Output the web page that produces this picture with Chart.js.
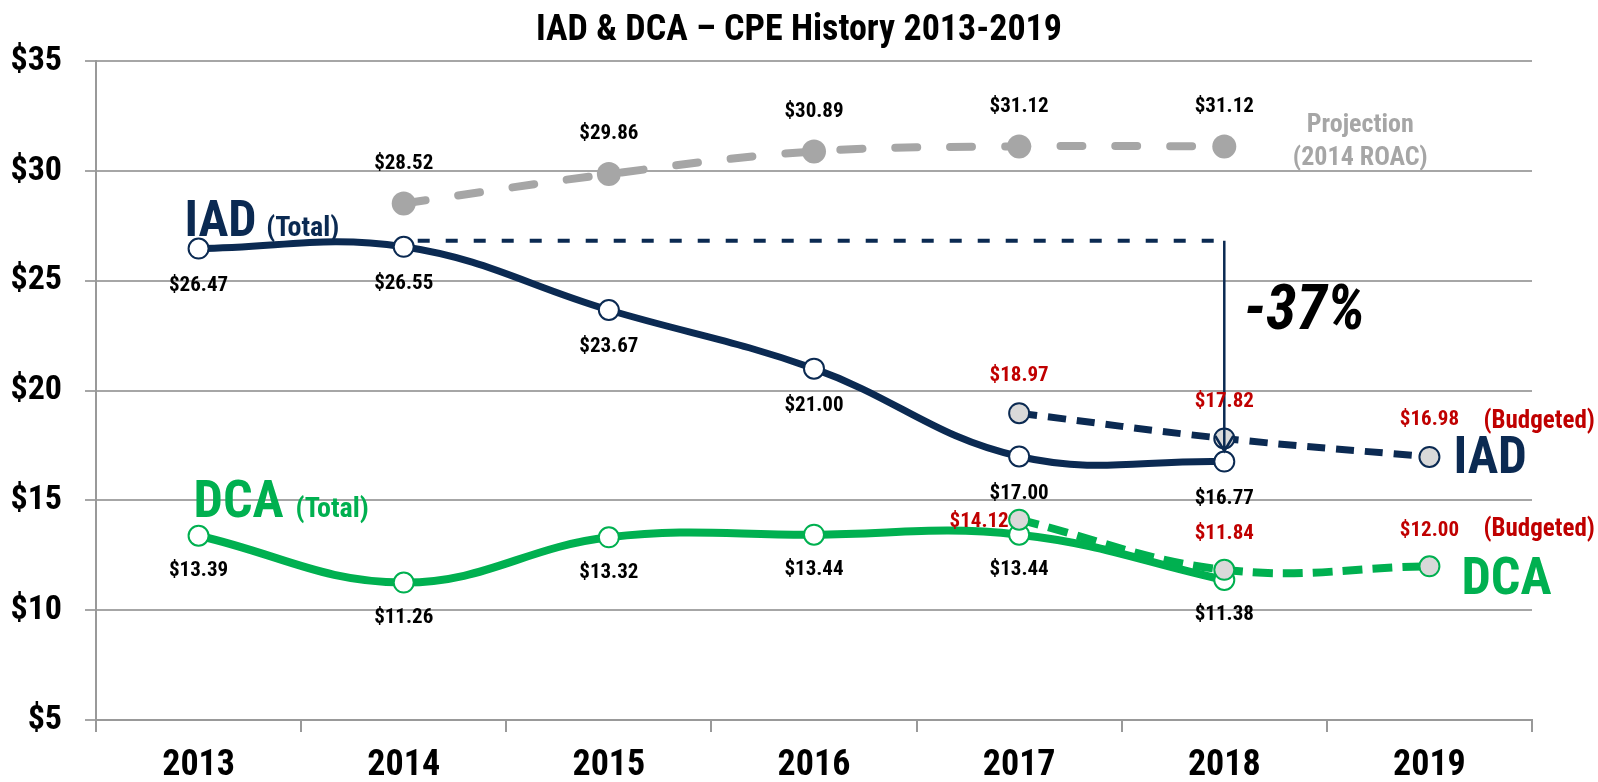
<!DOCTYPE html>
<html>
<head>
<meta charset="utf-8">
<title>IAD & DCA CPE History</title>
<script src="https://cdn.jsdelivr.net/npm/chart.js@4.4.1/dist/chart.umd.min.js"></script>
<style>
  html, body { margin: 0; padding: 0; background: #fff; }
  #wrap { width: 1598px; height: 782px; }
</style>
</head>
<body>
<div id="wrap"><canvas id="cpe"></canvas></div>
<script>
const years = ['2013', '2014', '2015', '2016', '2017', '2018', '2019'];
const iadTotal = [26.47, 26.55, 23.67, 21.00, 17.00, 16.77, null];
const iadBudget = [null, null, null, null, 18.97, 17.82, 16.98];
const projection = [null, 28.52, 29.86, 30.89, 31.12, 31.12, null];
const dcaTotal = [13.39, 11.26, 13.32, 13.44, 13.44, 11.38, null];
const dcaBudget = [null, null, null, null, 14.12, 11.84, 12.00];
const yTickValues = [5, 10, 15, 20, 25, 30, 35];

const NAVY = '#0b2a52';
const GREEN = '#00b050';
const GRAY = '#a6a6a6';
const RED = '#c00000';
const FONT = '"Roboto Condensed", "Open Sans Condensed", "Liberation Sans Narrow", sans-serif';

const money = v => '$' + v.toFixed(2);

// labels, callouts and the -37% arrow
const annotate = {
  id: 'annotate',
  afterDatasetsDraw(chart) {
    const { ctx, scales } = chart;
    const x = scales.x, y = scales.y;
    const pts = i => chart.getDatasetMeta(i).data;
    const txt = (s, px, py, size, color, align, style) => {
      ctx.font = (style || 'bold') + ' ' + size + 'px ' + FONT;
      ctx.fillStyle = color;
      ctx.textAlign = align || 'center';
      ctx.textBaseline = 'middle';
      ctx.fillText(s, px, py);
    };
    ctx.save();

    // reference level from 2014 and the drop arrow at 2018
    const lvl = y.getPixelForValue(26.82);
    const x14 = x.getPixelForValue(1), x18 = x.getPixelForValue(5);
    ctx.strokeStyle = NAVY;
    ctx.lineWidth = 4;
    ctx.setLineDash([12, 16]);
    ctx.beginPath();
    ctx.moveTo(x14 + 14, lvl);
    ctx.lineTo(x18, lvl);
    ctx.stroke();
    ctx.setLineDash([]);
    ctx.lineWidth = 2.5;
    const tip = y.getPixelForValue(17.25);
    ctx.beginPath();
    ctx.moveTo(x18, lvl);
    ctx.lineTo(x18, tip);
    ctx.moveTo(x18 - 9, tip - 15);
    ctx.lineTo(x18, tip);
    ctx.lineTo(x18 + 9, tip - 15);
    ctx.stroke();
    txt('-37%', x18 + 20, y.getPixelForValue(23.5), 62, '#000', 'left', 'italic bold');

    // data labels
    pts(0).forEach((p, i) => { if (iadTotal[i] != null) txt(money(iadTotal[i]), p.x, p.y + 37, 21, '#000'); });
    pts(2).forEach((p, i) => { if (dcaTotal[i] != null) txt(money(dcaTotal[i]), p.x, p.y + 35, 21, '#000'); });
    pts(4).forEach((p, i) => { if (projection[i] != null) txt(money(projection[i]), p.x, p.y - 40, 21, '#000'); });
    pts(1).forEach((p, i) => { if (iadBudget[i] != null) txt(money(iadBudget[i]), p.x, p.y - 37, 21, RED); });
    pts(3).forEach((p, i) => {
      if (dcaBudget[i] == null) return;
      if (i === 4) txt(money(dcaBudget[i]), p.x - 40, p.y + 2, 21, RED);
      else txt(money(dcaBudget[i]), p.x, p.y - 36, 21, RED);
    });

    // series callouts
    const iad0 = pts(0)[0], dca0 = pts(2)[0];
    ctx.textBaseline = 'alphabetic';
    ctx.textAlign = 'left';
    ctx.fillStyle = NAVY;
    ctx.font = 'bold 50px ' + FONT;
    ctx.fillText('IAD', iad0.x - 14, iad0.y - 13);
    let w = ctx.measureText('IAD ').width;
    ctx.font = 'bold 28px ' + FONT;
    ctx.fillText('(Total)', iad0.x - 16 + w, iad0.y - 13);
    ctx.fillStyle = GREEN;
    ctx.font = 'bold 52px ' + FONT;
    ctx.fillText('DCA', dca0.x - 5, dca0.y - 19);
    w = ctx.measureText('DCA ').width;
    ctx.font = 'bold 28px ' + FONT;
    ctx.fillText('(Total)', dca0.x - 5 + w, dca0.y - 19);

    const iadEnd = pts(1)[6], dcaEnd = pts(3)[6];
    txt('IAD', iadEnd.x + 24, iadEnd.y + 3, 51, NAVY, 'left');
    txt('DCA', dcaEnd.x + 32, dcaEnd.y + 15, 52, GREEN, 'left');
    txt('(Budgeted)', iadEnd.x + 54, iadEnd.y - 35, 25, RED, 'left');
    txt('(Budgeted)', dcaEnd.x + 54, dcaEnd.y - 37, 25, RED, 'left');

    const pr = pts(4)[5];
    txt('Projection', pr.x + 136, pr.y - 21, 26, GRAY);
    txt('(2014 ROAC)', pr.x + 136, pr.y + 12, 26, GRAY);
    ctx.restore();
  }
};

new Chart(document.getElementById('cpe'), {
  type: 'line',
  data: {
    labels: years,
    datasets: [
      {
        label: 'IAD (Total)',
        data: iadTotal,
        borderColor: NAVY,
        borderWidth: 7,
        tension: 0.4,
        pointRadius: 10,
        pointBorderWidth: 2,
        pointBackgroundColor: '#fff',
        pointBorderColor: NAVY,
        order: 5,
      },
      {
        label: 'IAD (Budgeted)',
        data: iadBudget,
        borderColor: NAVY,
        borderWidth: 7,
        borderDash: [18, 11],
        tension: 0.4,
        pointRadius: 10,
        pointBorderWidth: 2,
        pointBackgroundColor: '#d9d9d9',
        pointBorderColor: NAVY,
        order: 4,
      },
      {
        label: 'DCA (Total)',
        data: dcaTotal,
        borderColor: GREEN,
        borderWidth: 8,
        tension: 0.4,
        pointRadius: 10,
        pointBorderWidth: 2,
        pointBackgroundColor: '#fff',
        pointBorderColor: GREEN,
        order: 3,
      },
      {
        label: 'DCA (Budgeted)',
        data: dcaBudget,
        borderColor: GREEN,
        borderWidth: 8,
        borderDash: [20, 10],
        tension: 0.4,
        pointRadius: 10,
        pointBorderWidth: 2,
        pointBackgroundColor: '#d9d9d9',
        pointBorderColor: GREEN,
        order: 2,
      },
      {
        label: 'Projection (2014 ROAC)',
        data: projection,
        borderColor: GRAY,
        borderWidth: 8,
        borderDash: [22, 33],
        borderCapStyle: 'round',
        tension: 0.4,
        pointRadius: 12,
        pointBorderWidth: 0,
        pointBackgroundColor: GRAY,
        order: 1,
      },
    ],
  },
  options: {
    responsive: true,
    maintainAspectRatio: false,
    animation: false,
    layout: { padding: 0 },
    plugins: {
      legend: { display: false },
      tooltip: { enabled: false },
      title: {
        display: true,
        text: 'IAD & DCA \u2013 CPE History 2013-2019',
        color: '#000',
        font: { family: FONT, size: 36, weight: 'bold', lineHeight: 1.2 },
        padding: { top: 9, bottom: 9 },
      },
    },
    scales: {
      x: {
        offset: true,
        afterFit: (scale) => { scale.height = 62; },
        grid: {
          offset: true,
          drawOnChartArea: false,
          drawTicks: true,
          tickLength: 12,
          color: '#999',
          lineWidth: 2,
        },
        border: { color: '#999', width: 2 },
        ticks: {
          color: '#000',
          padding: 17,
          font: { family: FONT, size: 36, weight: 'bold', lineHeight: 0.92 },
        },
      },
      y: {
        min: 5,
        max: 35,
        afterBuildTicks: (scale) => { scale.ticks = yTickValues.map(v => ({ value: v })); },
        afterFit: (scale) => { scale.width = 96; },
        grid: { color: '#a6a6a6', lineWidth: 2, tickLength: 11 },
        border: { color: '#999', width: 2 },
        ticks: {
          color: '#000',
          padding: 23,
          font: { family: FONT, size: 34, weight: 'bold' },
          callback: (v) => '$' + v,
        },
      },
      // empty right margin so the title centres on the whole canvas
      spacer: {
        position: 'right',
        min: 5,
        max: 35,
        afterFit: (scale) => { scale.width = 66; },
        grid: { drawOnChartArea: false, drawTicks: false },
        border: { display: false },
        ticks: { display: false },
      },
    },
  },
  plugins: [annotate],
});
</script>
</body>
</html>
